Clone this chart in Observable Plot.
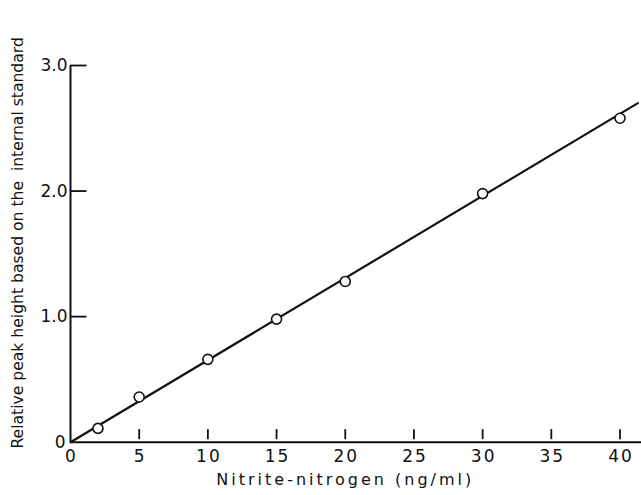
<!DOCTYPE html>
<html>
<head>
<meta charset="utf-8">
<script src="https://cdn.jsdelivr.net/npm/d3@7"></script>
<script src="https://cdn.jsdelivr.net/npm/@observablehq/plot@0.6"></script>
<style>
  html, body { margin: 0; padding: 0; background: #fff; }
  svg { display: block; }
</style>
</head>
<body>
<div id="chart"></div>
<script>
// Data
const nitriteN = [2, 5, 10, 15, 20, 30, 40];          // ng/ml
const relHeight = [0.11, 0.36, 0.66, 0.98, 1.28, 1.98, 2.58];
const fitX = [0, 41.3];
const fitY = [0, 2.70];
const xTicks = [5, 10, 15, 20, 25, 30, 35, 40];
const xTickLabels = ["0", "5", "10", "15", "20", "25", "30", "35", "40"];
const xLabelValues = [0, 5, 10, 15, 20, 25, 30, 35, 40];
const yTicks = [1, 2, 3];
const yLabelValues = [0, 1, 2, 3];
const yTickLabels = ["0", "1.0", "2.0", "3.0"];
const xTitle = "Nitrite-nitrogen (ng/ml)";
const yTitle = "Relative peak height based on the  internal standard";

const points = nitriteN.map((x, i) => ({x, y: relHeight[i]}));
const fit = fitX.map((x, i) => ({x, y: fitY[i]}));

const font = "'DejaVu Sans', sans-serif";

const chart = Plot.plot({
  width: 641,
  height: 495,
  marginLeft: 70,
  marginRight: 21.5,
  marginTop: 65,
  marginBottom: 53.3,
  style: {fontFamily: font, fontSize: "15px", color: "#111", background: "#fff"},
  x: {domain: [0, 40], axis: null},
  y: {domain: [0, 3], axis: null},
  marks: [
    // axes lines
    Plot.ruleY([0], {x1: 0, x2: 41.7, stroke: "#111", strokeWidth: 2}),
    Plot.ruleX([0], {y1: 0, y2: 3, stroke: "#111", strokeWidth: 2}),
    // inward ticks
    Plot.ruleX(xTicks, {x: d => d, y1: 0.02, y2: 0.1, stroke: "#111", strokeWidth: 1.8}),
    Plot.ruleY(yTicks, {y: d => d, x1: 0, x2: 1.2, stroke: "#111", strokeWidth: 1.8}),
    // tick labels
    Plot.text(xLabelValues, {ariaLabel: "x-tick-labels", x: d => d, y: 0, text: (d, i) => xTickLabels[i], dy: 14, dx: 1, fontSize: 17, fill: "#111"}),
    Plot.text(yLabelValues, {ariaLabel: "y-tick-labels", x: 0, y: d => d, text: (d, i) => yTickLabels[i], textAnchor: "end", dx: -3, dy: 0, fontSize: 17, fill: "#111"}),
    // fitted line
    Plot.line(fit, {x: "x", y: "y", stroke: "#111", strokeWidth: 2.2}),
    // data points
    Plot.dot(points, {x: "x", y: "y", r: 5, fill: "#fff", stroke: "#111", strokeWidth: 1.6}),
    // axis titles
    Plot.text([xTitle], {ariaLabel: "x-title", frameAnchor: "bottom", textAnchor: "middle", dy: 43, fontSize: 16, fill: "#111"}),
    Plot.text([yTitle], {ariaLabel: "y-title", frameAnchor: "left", textAnchor: "middle", dx: -53, dy: -11, rotate: -90, fontSize: 15.6, fill: "#111"})
  ]
});

// letter spacing to mimic the wide lettering of the original
d3.select(chart).selectAll("text").each(function() {
  const t = this.textContent;
  if (t === xTitle) this.setAttribute("letter-spacing", "3");
  else if (xTickLabels.includes(t) && this.getAttribute("text-anchor") !== "end") this.setAttribute("letter-spacing", "2");
});

document.getElementById("chart").appendChild(chart);
</script>
</body>
</html>
